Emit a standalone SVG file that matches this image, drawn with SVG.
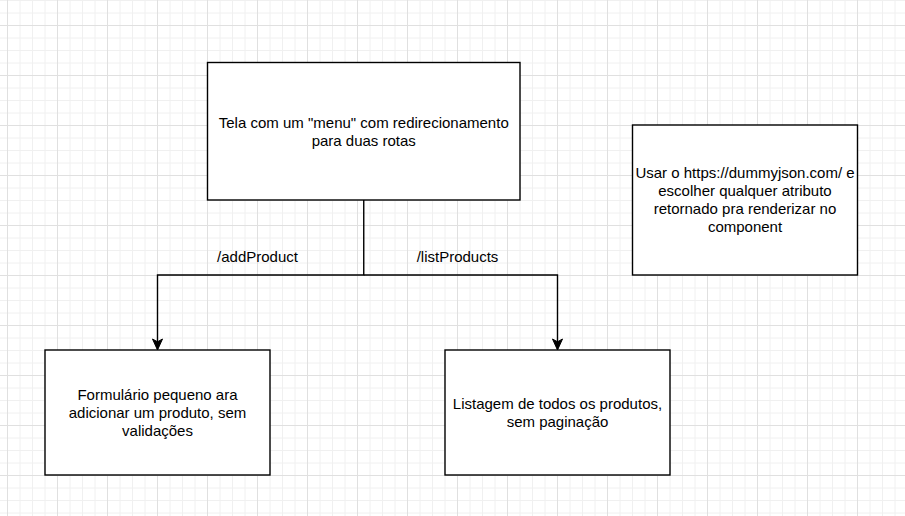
<svg xmlns="http://www.w3.org/2000/svg" width="905" height="516" viewBox="0 0 905 516">
  <defs>
    <pattern id="grid" patternUnits="userSpaceOnUse" x="7" y="25" width="50" height="50">
      <path d="M13 0V50M25.5 0V50M38 0V50M0 13H50M0 25.5H50M0 38H50" stroke="#f0f0f0" stroke-width="1" fill="none"/>
      <path d="M0.5 0V50M0 0.5H50" stroke="#e0e0e0" stroke-width="1" fill="none"/>
    </pattern>
    <marker id="arrow" markerUnits="userSpaceOnUse" markerWidth="12" markerHeight="14" refX="5" refY="11" orient="auto-start-reverse" viewBox="0 0 10 11" overflow="visible">
      <path d="M5 11L0.5 0L5 2.6L9.5 0Z" fill="#000" stroke="#000" stroke-width="0.8"/>
    </marker>
    <style>
      .box { fill: #fff; stroke: #000; stroke-width: 1.4; }
      .t { font-family: "Liberation Sans", Arial, sans-serif; font-size: 15px; fill: #000; text-anchor: middle; }
      .edge { fill: none; stroke: #000; stroke-width: 1.4; }
    </style>
  </defs>
  <rect width="905" height="516" fill="#fff"/>
  <rect width="905" height="516" fill="url(#grid)"/>

  <g id="connectors">
    <path class="edge" d="M363.75 200V275H157.5V349"/>
    <path d="M157.5 350L152.5 339L157.5 341.8L162.5 339Z" fill="#000" stroke="#000" stroke-width="1"/>
    <path class="edge" d="M363.75 275H557.5V349"/>
    <path d="M557.5 350L552.5 339L557.5 341.8L562.5 339Z" fill="#000" stroke="#000" stroke-width="1"/>
    <text class="t" x="257.5" y="261.5">/addProduct</text>
    <text class="t" x="457.5" y="261.5">/listProducts</text>
  </g>

  <g id="node-menu">
    <rect class="box" x="207.5" y="62.5" width="312.5" height="137.5"/>
    <text class="t" x="363.75" y="127.5">Tela com um "menu" com redirecionamento</text>
    <text class="t" x="363.75" y="145.5">para duas rotas</text>
  </g>

  <g id="node-dummyjson">
    <rect class="box" x="632.5" y="125" width="225" height="150"/>
    <text class="t" x="745" y="178.3">Usar o https://dummyjson.com/ e</text>
    <text class="t" x="745" y="196.3">escolher qualquer atributo</text>
    <text class="t" x="745" y="214.3">retornado pra renderizar no</text>
    <text class="t" x="745" y="232.3">component</text>
  </g>

  <g id="node-add">
    <rect class="box" x="45" y="350" width="225" height="125"/>
    <text class="t" x="157.5" y="399.8">Formulário pequeno ara</text>
    <text class="t" x="157.5" y="417.8">adicionar um produto, sem</text>
    <text class="t" x="157.5" y="435.8">validações</text>
  </g>

  <g id="node-list">
    <rect class="box" x="445" y="350" width="225" height="125"/>
    <text class="t" x="557.5" y="408.8">Listagem de todos os produtos,</text>
    <text class="t" x="557.5" y="426.8">sem paginação</text>
  </g>
</svg>
